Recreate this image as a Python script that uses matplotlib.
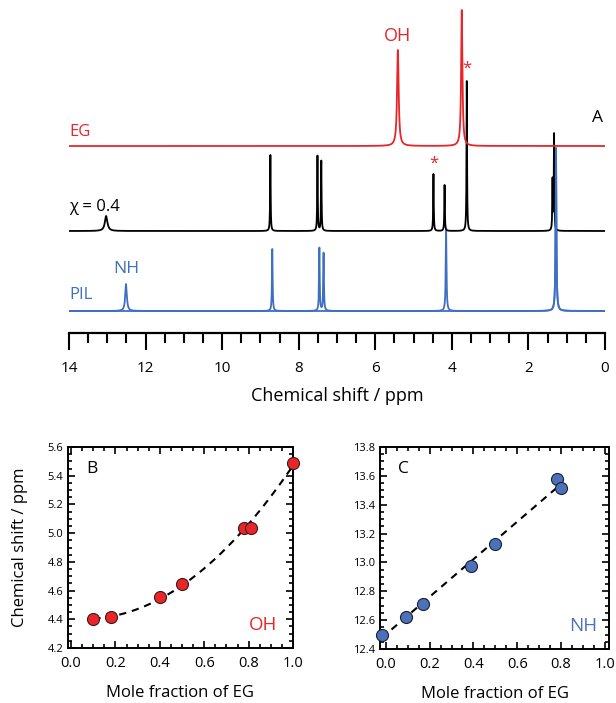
''' NMR spectra of PIL / EG mixtures and chemical shift vs mole fraction. '''
import numpy as np
import matplotlib
matplotlib.use('Agg')
import matplotlib.pyplot as plt
from matplotlib.ticker import MultipleLocator

plt.rcParams['font.family'] = ['Open Sans', 'DejaVu Sans']

RED = '#e8262a'
BLUE = '#3f6fc2'
MARK_BLUE = '#4b72b8'

# spectra: peak positions (ppm), heights, half widths
EG_PPM = [5.41, 3.74]
EG_H = [96, 136]
EG_W = [0.025, 0.02]

MIX_PPM = [13.03, 8.74, 7.51, 7.41, 4.48, 4.19, 3.61, 1.33, 1.37]
MIX_H = [15, 76, 75, 70, 57, 46, 150, 96, 50]
MIX_W = [0.04, 0.008, 0.008, 0.008, 0.008, 0.008, 0.008, 0.008, 0.008]

PIL_PPM = [12.51, 8.69, 7.46, 7.35, 4.15, 1.28]
PIL_H = [27, 62, 63, 58, 81, 163]
PIL_W = [0.025, 0.01, 0.01, 0.01, 0.012, 0.012]

# baselines of the stacked traces
OFFSETS = {'EG': 187, 'mix': 102, 'PIL': 22}

# panel B: OH shift
B_X = [0.10, 0.18, 0.40, 0.50, 0.78, 0.81, 1.00]
B_Y = [4.40, 4.415, 4.556, 4.647, 5.038, 5.038, 5.489]

# panel C: NH shift
C_X = [-0.02, 0.09, 0.17, 0.39, 0.50, 0.78, 0.80]
C_Y = [12.50, 12.625, 12.715, 12.977, 13.127, 13.577, 13.515]


def lorentz(x, pos, h, w):
    y = np.zeros_like(x)
    for p, a, g in zip(pos, h, w):
        y += a / (1 + ((x - p) / g) ** 2)
    return y


fig = plt.figure(figsize=(6.16, 7.03), dpi=100)

# --- panel A ---
ax = fig.add_axes([69 / 616, 1 - 333 / 703, 536 / 616, 333 / 703])
ppm = np.linspace(0, 14, 20000)
ax.plot(ppm, OFFSETS['PIL'] + lorentz(ppm, PIL_PPM, PIL_H, PIL_W), color=BLUE, lw=1.3)
ax.plot(ppm, OFFSETS['mix'] + lorentz(ppm, MIX_PPM, MIX_H, MIX_W), color='black', lw=1.3)
ax.plot(ppm, OFFSETS['EG'] + lorentz(ppm, EG_PPM, EG_H, EG_W), color=RED, lw=1.3)
# blue methyl peak sits on top of the black trace
ax.plot(ppm, OFFSETS['PIL'] + lorentz(ppm, PIL_PPM[-1:], PIL_H[-1:], PIL_W[-1:]),
        color=BLUE, lw=1.3)

ax.set_xlim(14, 0)
ax.set_ylim(0, 333)
for s in ['left', 'right', 'top']:
    ax.spines[s].set_visible(False)
ax.spines['bottom'].set_linewidth(1.6)
ax.set_yticks([])
ax.xaxis.set_major_locator(MultipleLocator(2))
ax.xaxis.set_minor_locator(MultipleLocator(0.5))
ax.tick_params(axis='x', which='major', direction='out', length=12, width=1.5,
               labelsize=11, pad=8)
ax.tick_params(axis='x', which='minor', direction='out', length=7, width=1.5)
ax.set_xlabel('Chemical shift / ppm', fontsize=13, labelpad=8)

ax.text(14, 193, 'EG', color=RED, fontsize=12, ha='left', va='bottom')
ax.text(14, 118, 'χ = 0.4', color='black', fontsize=12, ha='left', va='bottom')
ax.text(14, 30, 'PIL', color=BLUE, fontsize=12, ha='left', va='bottom')
ax.text(12.51, 56, 'NH', color=BLUE, fontsize=12.5, ha='center', va='bottom')
ax.text(5.41, 288, 'OH', color=RED, fontsize=13, ha='center', va='bottom')
ax.text(0.2, 207, 'A', color='black', fontsize=12.5, ha='center', va='bottom')
ax.text(4.48, 161, '*', color=RED, fontsize=12, ha='center', va='bottom')
ax.text(3.61, 256, '*', color=RED, fontsize=12, ha='center', va='bottom')


def style_panel(a):
    a.xaxis.set_major_locator(MultipleLocator(0.2))
    a.xaxis.set_minor_locator(MultipleLocator(0.05))
    a.yaxis.set_major_locator(MultipleLocator(0.2))
    a.yaxis.set_minor_locator(MultipleLocator(0.05))
    a.tick_params(which='both', direction='in', top=True, right=True, width=1.2)
    a.tick_params(which='major', length=5)
    a.tick_params(which='minor', length=3)
    a.tick_params(axis='x', labelsize=10.5, pad=6)
    a.tick_params(axis='y', labelsize=8)
    for s in a.spines.values():
        s.set_linewidth(1.4)
    a.xaxis.set_major_formatter('{x:.1f}')
    a.yaxis.set_major_formatter('{x:.1f}')
    a.set_xlabel('Mole fraction of EG', fontsize=12, labelpad=10)


DASH = (0, (3.5, 2.8))

# --- panel B ---
axb = fig.add_axes([68 / 616, 1 - 648 / 703, 225 / 616, 201 / 703])
cb = np.polyfit(B_X, B_Y, 2)
xb = np.linspace(min(B_X), max(B_X), 200)
axb.plot(xb, np.polyval(cb, xb), color='black', ls=DASH, lw=1.5, zorder=2)
axb.scatter(B_X, B_Y, s=75, color=RED, edgecolor='#3a1a1a', linewidth=0.8,
            zorder=3, clip_on=False)
axb.set_xlim(-0.014, 1.0)
axb.set_ylim(4.2, 5.6)
style_panel(axb)
axb.set_ylabel('Chemical shift / ppm', fontsize=12, labelpad=14)
axb.text(0.08, 0.93, 'B', transform=axb.transAxes, fontsize=12.5, ha='left', va='top')
axb.text(0.93, 0.07, 'OH', transform=axb.transAxes, fontsize=13.5, color=RED,
         ha='right', va='bottom')

# --- panel C ---
axc = fig.add_axes([380 / 616, 1 - 649 / 703, 229 / 616, 202 / 703])
cc = np.polyfit(C_X, C_Y, 1)
xc = np.linspace(min(C_X), max(C_X), 50)
axc.plot(xc, np.polyval(cc, xc), color='black', ls=DASH, lw=1.5, zorder=2)
axc.scatter(C_X, C_Y, s=75, color=MARK_BLUE, edgecolor='#1a1f33', linewidth=0.8,
            zorder=3, clip_on=False)
axc.set_xlim(-0.027, 1.02)
axc.set_ylim(12.4, 13.8)
style_panel(axc)
axc.text(0.08, 0.93, 'C', transform=axc.transAxes, fontsize=12.5, ha='left', va='top')
axc.text(0.95, 0.07, 'NH', transform=axc.transAxes, fontsize=13.5, color=MARK_BLUE,
         ha='right', va='bottom')

fig.savefig('out.png', dpi=100)
